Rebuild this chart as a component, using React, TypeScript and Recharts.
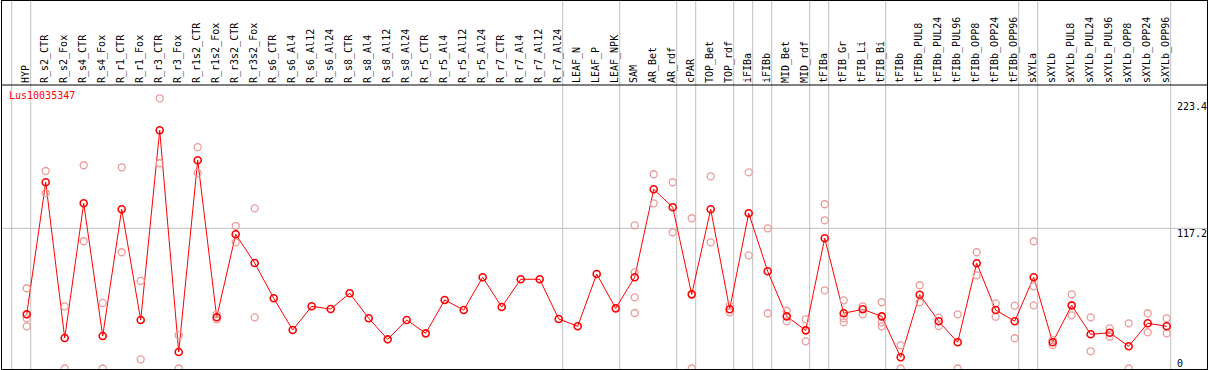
import React from "react";
import {
  ComposedChart,
  Line,
  Scatter,
  XAxis,
  YAxis,
  ReferenceLine,
} from "recharts";

const gene = "Lus10035347";

const samples = [
  "HYP", "R_s2_CTR", "R_s2_Fox", "R_s4_CTR", "R_s4_Fox", "R_r1_CTR", "R_r1_Fox",
  "R_r3_CTR", "R_r3_Fox", "R_r1s2_CTR", "R_r1s2_Fox", "R_r3s2_CTR", "R_r3s2_Fox",
  "R_s6_CTR", "R_s6_Al4", "R_s6_Al12", "R_s6_Al24", "R_s8_CTR", "R_s8_Al4",
  "R_s8_Al12", "R_s8_Al24", "R_r5_CTR", "R_r5_Al4", "R_r5_Al12", "R_r5_Al24",
  "R_r7_CTR", "R_r7_Al4", "R_r7_Al12", "R_r7_Al24", "LEAF_N", "LEAF_P", "LEAF_NPK",
  "SAM", "AR_Bet", "AR_rdf", "cPAR", "TOP_Bet", "TOP_rdf", "iFIBa", "iFIBb",
  "MID_Bet", "MID_rdf", "tFIBa", "tFIB_Gr", "tFIB_Li", "tFIB_Bi", "tFIBb",
  "tFIBb_PUL8", "tFIBb_PUL24", "tFIBb_PUL96", "tFIBb_OPP8", "tFIBb_OPP24",
  "tFIBb_OPP96", "sXYLa", "sXYLb", "sXYLb_PUL8", "sXYLb_PUL24", "sXYLb_PUL96",
  "sXYLb_OPP8", "sXYLb_OPP24", "sXYLb_OPP96",
];

const means = [
  45.3, 155.7, 25.5, 138.1, 27.2, 133.1, 40.6, 199.2, 13.8, 174.1, 42.8, 112.2, 88.2,
  58.7, 32.2, 52.0, 49.7, 62.9, 42.0, 24.4, 40.6, 29.4, 57.3, 48.9, 76.3,
  51.4, 74.6, 74.6, 41.4, 35.3, 79.0, 50.3,
  76.3, 149.8, 134.8, 62.0, 133.1, 49.5, 129.8, 81.3, 43.6, 31.9, 108.9,
  46.2, 49.5, 43.6, 9.4, 61.7, 39.5, 21.9, 88.0, 48.9, 39.5,
  76.3, 21.9, 52.8, 28.6, 29.9, 18.6, 37.8, 35.3,
];

// single measurements per sample (drawn faded)
const replicates: number[][] = [
  [67.1, 42.0, 35.3], [165.1, 146.7], [52.0, 0], [169.9, 106.4], [54.8, 0],
  [168.2, 97.2], [73.2, 7.7], [225.9, 171.6], [27.8, 0], [185.0, 163.5],
  [45.3, 41.1], [119.1, 105.5], [133.9, 42.8],
  [], [], [], [], [], [], [], [], [], [], [], [], [], [], [], [], [], [], [],
  [119.7, 80.4, 59.5, 46.4], [162.4, 138.1], [155.7, 113.9], [125.6, 0],
  [160.7, 105.5], [52.8, 47.0], [164.0, 94.6], [117.2, 46.2], [48.3, 39.5],
  [41.1, 22.7], [137.3, 123.9, 65.4], [57.0, 42.0, 38.6], [52.0, 45.3],
  [55.4, 38.6, 35.3], [19.4, 0], [69.6, 55.4], [42.5, 35.5], [45.3, 0],
  [97.2, 77.9], [54.5, 43.3], [52.5, 25.3], [106.4, 68.7, 52.8], [23.8, 19.6],
  [62.0, 44.5], [42.8, 14.4], [33.6, 26.6], [37.8, 0], [46.2, 30.3], [42.0, 29.4],
];

// index of the last sample in each group (separator drawn after it)
const groupEnds = [-1, 0, 28, 31, 34, 35, 37, 38, 39, 41, 42, 45, 52, 53, 60];
const yTicks = [0, 117.2, 223.4];

const lineData = samples.map((name, i) => ({ x: i, name, mean: means[i] }));
const repData = replicates.flatMap((vals, i) => vals.map((v) => ({ x: i, value: v })));

const MONO = "'DejaVu Sans Mono', monospace";
const RED = "#ff0000";
const FADED = "#ee9a9a";
const GRID = "#c0c0c0";

function SampleTick({ x, y, payload }: any) {
  return (
    <text
      transform={`translate(${x + 2},${y}) rotate(-90)`}
      fontFamily={MONO}
      fontSize={10}
      fill="#000"
      textAnchor="start"
    >
      {samples[payload.value]}
    </text>
  );
}

function ValueTick({ x, y, payload }: any) {
  const base = payload.value === 0 ? y - 2 : y + 9;
  return (
    <text x={x - 30} y={base} fontFamily={MONO} fontSize={10} fill="#000" textAnchor="start">
      {String(payload.value)}
    </text>
  );
}

function MeanDot({ cx, cy }: any) {
  return <circle cx={cx} cy={cy} r={3.5} fill="none" stroke={RED} strokeWidth={1.6} />;
}

function RepDot({ cx, cy }: any) {
  return <circle cx={cx} cy={cy} r={3.5} fill="none" stroke={FADED} strokeWidth={1.3} />;
}

export default function App() {
  return (
    <div style={{ position: "absolute", left: 0, top: 0, width: 1209, height: 370, background: "#fff" }}>
      <ComposedChart
        width={1209}
        height={370}
        margin={{ top: 0, left: 1, right: 0, bottom: 1 }}
      >
        <XAxis
          type="number"
          dataKey="x"
          orientation="top"
          domain={[-1.353, 62.121]}
          ticks={samples.map((_, i) => i)}
          interval={0}
          height={85}
          tickSize={0}
          tickMargin={2}
          axisLine={{ stroke: "#000" }}
          tickLine={false}
          tick={<SampleTick />}
          allowDataOverflow
        />
        <YAxis
          type="number"
          orientation="right"
          domain={[-0.4, 237]}
          ticks={yTicks}
          interval={0}
          width={2}
          tickSize={0}
          tickMargin={0}
          axisLine={false}
          tickLine={false}
          tick={<ValueTick />}
          allowDataOverflow
        />
        <ReferenceLine y={117.2} stroke={GRID} strokeWidth={1} />
        {groupEnds.map((e) => (
          <ReferenceLine
            key={e}
            segment={[
              { x: e + 0.21, y: -0.4 },
              { x: e + 0.21, y: 308 },
            ]}
            stroke={GRID}
            strokeWidth={1}
            ifOverflow="visible"
          />
        ))}
        <Scatter
          data={repData}
          dataKey="value"
          shape={(p: any) => <RepDot {...p} />}
          isAnimationActive={false}
        />
        <Line
          data={lineData}
          dataKey="mean"
          type="linear"
          stroke={RED}
          strokeWidth={1}
          dot={(p: any) => <MeanDot key={p.index} {...p} />}
          activeDot={false}
          isAnimationActive={false}
        />
      </ComposedChart>
      <div
        style={{
          position: "absolute",
          left: 1,
          top: 0,
          width: 1207,
          height: 370,
          boxSizing: "border-box",
          border: "1px solid #000",
          pointerEvents: "none",
        }}
      />
      <div
        style={{
          position: "absolute",
          left: 9,
          top: 90,
          color: RED,
          fontFamily: MONO,
          fontSize: 10,
          lineHeight: "12px",
        }}
      >
        {gene}
      </div>
    </div>
  );
}
